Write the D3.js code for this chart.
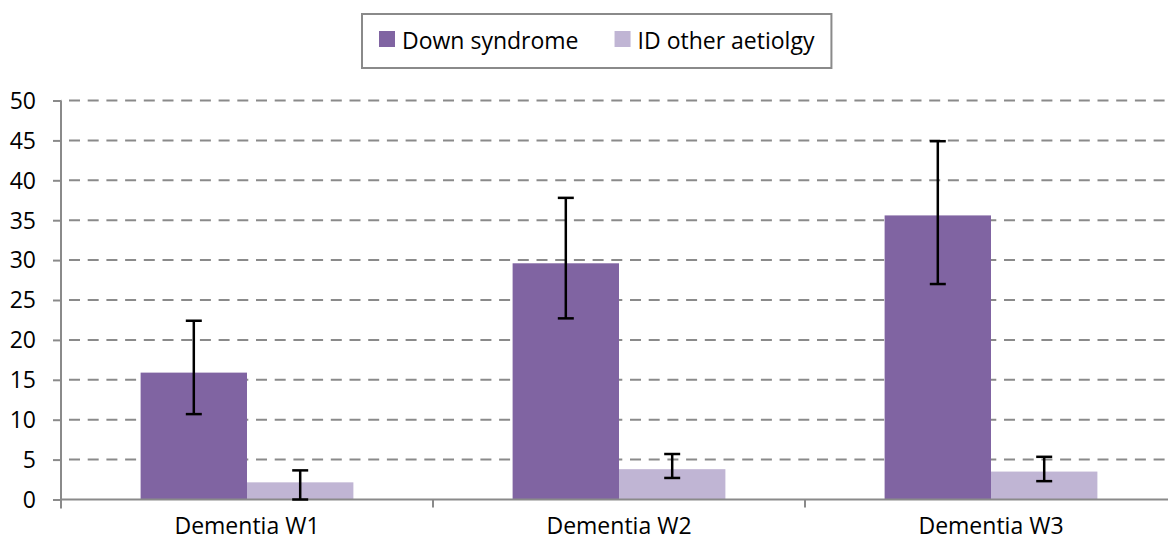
<!DOCTYPE html>
<html>
<head>
<meta charset="utf-8">
<script src="https://cdn.jsdelivr.net/npm/d3@7"></script>
<style>
  html, body { margin: 0; padding: 0; background: #ffffff; }
  svg { display: block; }
  text { font-family: "Open Sans", "Noto Sans", sans-serif; fill: #000; }
</style>
</head>
<body>
<svg id="chart" width="1168" height="546"></svg>
<script>
// ---- data ----
const categories = ["Dementia W1", "Dementia W2", "Dementia W3"];
const seriesNames = ["Down syndrome", "ID other aetiolgy"];
const downValues = [15.9, 29.6, 35.6];
const downErrLow = [10.7, 22.7, 27.0];
const downErrHigh = [22.4, 37.8, 44.9];
const otherValues = [2.15, 3.8, 3.5];
const otherErrLow = [0.0, 2.7, 2.3];
const otherErrHigh = [3.65, 5.7, 5.35];
const yTicks = [0, 5, 10, 15, 20, 25, 30, 35, 40, 45, 50];
const colors = ["#8064A2", "#C0B5D4"];

const series = [
  { name: seriesNames[0], values: downValues, lo: downErrLow, hi: downErrHigh, color: colors[0] },
  { name: seriesNames[1], values: otherValues, lo: otherErrLow, hi: otherErrHigh, color: colors[1] }
];

const svg = d3.select("#chart");
const axisColor = "#8a8a8a";

const x = d3.scaleBand().domain(categories).range([61, 61 + 3 * 372]).padding(0);
const y = d3.scaleLinear().domain([0, 50]).range([499.5, 100.5]);
const barW = x.bandwidth() * 0.286;
const xs = d3.scaleBand().domain(seriesNames).range([0, 2 * barW]).padding(0);

// gridlines
svg.append("g").selectAll("line").data(yTicks.filter(d => d > 0)).join("line")
  .attr("x1", 61).attr("x2", 1168)
  .attr("y1", d => y(d)).attr("y2", d => y(d))
  .attr("stroke", axisColor).attr("stroke-width", 2)
  .attr("stroke-dasharray", "11,7.7")
  .attr("stroke-dashoffset", -8);

// bars
const groups = svg.append("g").selectAll("g").data(series).join("g");
groups.selectAll("rect").data(s => s.values.map((v, i) => ({ s, v, i }))).join("rect")
  .attr("x", d => x(categories[d.i]) + x.bandwidth() / 2 - barW + xs(d.s.name))
  .attr("width", barW)
  .attr("y", d => y(d.v))
  .attr("height", d => y(0) - y(d.v))
  .attr("fill", d => d.s.color);

// y axis
const yAxis = d3.axisLeft(y).tickValues(yTicks).tickSize(8).tickPadding(16).tickFormat(d3.format("d"));
const gy = svg.append("g").attr("transform", "translate(61,0)").call(yAxis);
gy.select(".domain").attr("stroke", axisColor).attr("stroke-width", 2).attr("d", `M0,${y(50)}V${y(0) + 9}`);
gy.selectAll(".tick line").attr("stroke", axisColor).attr("stroke-width", 2);
gy.selectAll(".tick text").attr("font-size", 23).attr("fill", "#000")
  .style("font-family", '"Open Sans", sans-serif').attr("dy", "0.34em").attr("x", -25);

// x axis
const xAxis = d3.axisBottom(x).tickSize(0).tickPadding(24);
const gx = svg.append("g").attr("transform", `translate(0,${y(0)})`).call(xAxis);
gx.select(".domain").attr("stroke", axisColor).attr("stroke-width", 2).attr("d", `M61,0H1168`);
gx.selectAll(".tick text").attr("font-size", 23).attr("fill", "#000")
  .style("font-family", '"Open Sans", sans-serif').attr("dy", "0.71em").attr("y", 18);
// category dividers
svg.append("g").selectAll("line")
  .data(categories.map(c => x(c)).concat([x(categories[2]) + x.bandwidth()]).slice(1))
  .join("line")
  .attr("x1", d => d).attr("x2", d => d)
  .attr("y1", y(0)).attr("y2", y(0) + 8)
  .attr("stroke", axisColor).attr("stroke-width", 2);

// error bars
const capW = 16;
const eg = svg.append("g");
series.forEach(s => {
  s.values.forEach((v, i) => {
    const cx = x(categories[i]) + x.bandwidth() / 2 - barW + xs(s.name) + barW / 2;
    eg.append("line").attr("x1", cx).attr("x2", cx)
      .attr("y1", y(s.hi[i])).attr("y2", y(s.lo[i]))
      .attr("stroke", "#000").attr("stroke-width", 2.5);
    [s.hi[i], s.lo[i]].forEach(e => {
      eg.append("line").attr("x1", cx - capW / 2).attr("x2", cx + capW / 2)
        .attr("y1", y(e)).attr("y2", y(e))
        .attr("stroke", "#000").attr("stroke-width", 2.5);
    });
  });
});

// legend
const lg = svg.append("g");
const box = lg.append("rect").attr("x", 362).attr("y", 14).attr("height", 54)
  .attr("fill", "#fff").attr("stroke", axisColor).attr("stroke-width", 2);
let cursor = 379;
series.forEach(s => {
  lg.append("rect").attr("x", cursor).attr("y", 31).attr("width", 16).attr("height", 16).attr("fill", s.color);
  const t = lg.append("text").attr("x", cursor + 23).attr("y", 48.5)
    .attr("font-size", 23).text(s.name);
  cursor = cursor + 23 + t.node().getComputedTextLength() + 36;
});
box.attr("width", cursor - 36 + 17 - 362);
</script>
</body>
</html>
